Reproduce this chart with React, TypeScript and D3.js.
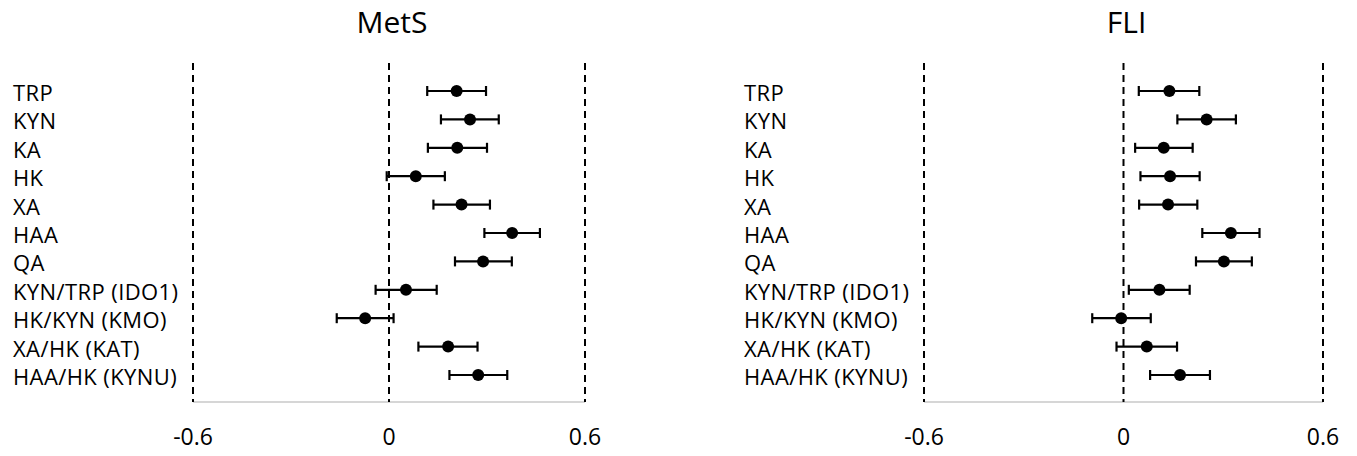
import * as React from "react";
import * as d3 from "d3";

const categories = [
  "TRP", "KYN", "KA", "HK", "XA", "HAA", "QA",
  "KYN/TRP (IDO1)", "HK/KYN (KMO)", "XA/HK (KAT)", "HAA/HK (KYNU)",
];

// MetS panel: estimate, lower and upper CI
const metsEst = [0.207, 0.248, 0.209, 0.082, 0.222, 0.377, 0.288, 0.052, -0.073, 0.181, 0.273];
const metsLow = [0.117, 0.159, 0.119, -0.007, 0.136, 0.292, 0.202, -0.041, -0.160, 0.090, 0.185];
const metsHigh = [0.297, 0.336, 0.300, 0.171, 0.309, 0.462, 0.376, 0.146, 0.014, 0.271, 0.362];

// FLI panel
const fliEst = [0.138, 0.250, 0.121, 0.140, 0.134, 0.323, 0.302, 0.108, -0.007, 0.070, 0.170];
const fliLow = [0.046, 0.162, 0.035, 0.051, 0.047, 0.237, 0.218, 0.016, -0.094, -0.021, 0.080];
const fliHigh = [0.228, 0.338, 0.208, 0.229, 0.222, 0.409, 0.386, 0.199, 0.082, 0.161, 0.260];

const tickValues = [-0.6, 0, 0.6];
const tickLabels = ["-0.6", "0", "0.6"];

const width = 1357;
const height = 456;
const font = "'Open Sans', 'Noto Sans', sans-serif";

const y = d3.scalePoint<string>().domain(categories).range([91, 375]);

type PanelProps = {
  title: string;
  est: number[];
  low: number[];
  high: number[];
  labelX: number;
  x0: number;
  x1: number;
};

const Panel = ({ title, est, low, high, labelX, x0, x1 }: PanelProps) => {
  const x = d3.scaleLinear().domain([-0.6, 0.6]).range([x0, x1]);
  const top = 63;
  const axisY = 402;
  return (
    <g>
      <text x={x(0) + 3} y={33} textAnchor="middle" fontSize={30} fontFamily={font} fill="#000">
        {title}
      </text>
      {categories.map((c) => (
        <text key={"lab" + c} x={labelX} y={(y(c) as number) + 10} fontSize={22} letterSpacing={0.4} fontFamily={font} fill="#000">
          {c}
        </text>
      ))}
      <line x1={x(-0.6)} x2={x(0.6)} y1={axisY} y2={axisY} stroke="#c8c8c8" strokeWidth={1.5} />
      {tickValues.map((t, i) => (
        <g key={"t" + i}>
          <line x1={x(t)} x2={x(t)} y1={top} y2={axisY} stroke="#000" strokeWidth={2} strokeDasharray="7,5" />
          <text x={x(t)} y={445} textAnchor="middle" fontSize={23} fontFamily={font} fill="#000">
            {tickLabels[i]}
          </text>
        </g>
      ))}
      {categories.map((c, i) => {
        const cy = y(c) as number;
        return (
          <g key={"pt" + c}>
            <line x1={x(low[i])} x2={x(high[i])} y1={cy} y2={cy} stroke="#000" strokeWidth={2.2} />
            <line x1={x(low[i])} x2={x(low[i])} y1={cy - 5} y2={cy + 5} stroke="#000" strokeWidth={2.2} />
            <line x1={x(high[i])} x2={x(high[i])} y1={cy - 5} y2={cy + 5} stroke="#000" strokeWidth={2.2} />
            <circle cx={x(est[i])} cy={cy} r={6} fill="#000" />
          </g>
        );
      })}
    </g>
  );
};

export default function App() {
  return (
    <svg width={width} height={height} style={{ position: "absolute", left: 0, top: 0, background: "#fff" }}>
      <rect width={width} height={height} fill="#fff" />
      <Panel title="MetS" est={metsEst} low={metsLow} high={metsHigh} labelX={13} x0={193} x1={585} />
      <Panel title="FLI" est={fliEst} low={fliLow} high={fliHigh} labelX={744} x0={924} x1={1323} />
    </svg>
  );
}
